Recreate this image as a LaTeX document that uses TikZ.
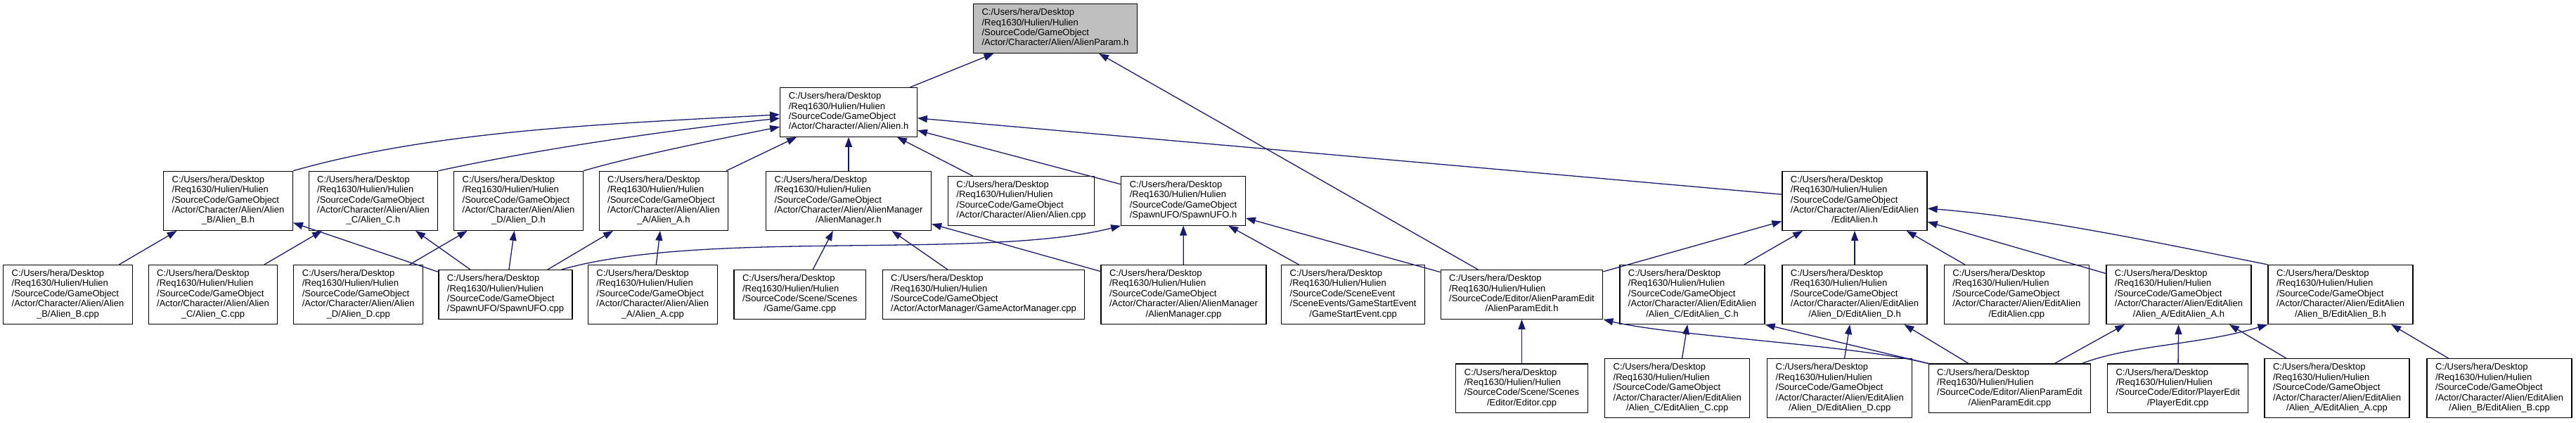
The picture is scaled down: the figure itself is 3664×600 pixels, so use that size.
\documentclass[tikz,border=0pt]{standalone}
\usepackage{fontspec}
\setmainfont{Liberation Sans}
\usetikzlibrary{arrows.meta}
\definecolor{edgeblue}{HTML}{191970}
\definecolor{nodegray}{HTML}{BFBFBF}
\newcommand{\flines}[1]{\begin{tabular}{@{}l@{}}#1\end{tabular}}
\newcommand{\lastln}[1]{\multicolumn{1}{@{}c@{}}{#1}}
\newcommand{\hpre}{C:/Users/hera/Desktop\\/Req1630/Hulien/Hulien\\}

\begin{document}
\begin{tikzpicture}[x=1pt,y=-1pt,>={Triangle[length=14pt,width=10pt]},
    file/.style={draw,line width=1.2pt,fill=white,inner xsep=12pt,inner ysep=6pt,
        font=\fontsize{13}{14.4}\selectfont},
    dep/.style={->,color=edgeblue,line width=1.3pt}]
    \useasboundingbox (0,0) rectangle (3664,600);
    % header and Alien.h
    \node[file,fill=nodegray] (aparam) at (1501,40.5)
        {\flines{\hpre/SourceCode/GameObject\\\lastln{/Actor/Character/Alien/AlienParam.h}}};
    \node[file] (alien) at (1207,159.4)
        {\flines{\hpre/SourceCode/GameObject\\\lastln{/Actor/Character/Alien/Alien.h}}};
    % third row
    \node[file] (alienb) at (324.5,285.3)
        {\flines{\hpre/SourceCode/GameObject\\/Actor/Character/Alien/Alien\\\lastln{\_B/Alien\_B.h}}};
    \node[file] (alienc) at (531,285.3)
        {\flines{\hpre/SourceCode/GameObject\\/Actor/Character/Alien/Alien\\\lastln{\_C/Alien\_C.h}}};
    \node[file] (aliend) at (737.5,285.3)
        {\flines{\hpre/SourceCode/GameObject\\/Actor/Character/Alien/Alien\\\lastln{\_D/Alien\_D.h}}};
    \node[file] (aliena) at (944,285.3)
        {\flines{\hpre/SourceCode/GameObject\\/Actor/Character/Alien/Alien\\\lastln{\_A/Alien\_A.h}}};
    \node[file] (amgr) at (1207,285.3)
        {\flines{\hpre/SourceCode/GameObject\\/Actor/Character/Alien/AlienManager\\\lastln{/AlienManager.h}}};
    \node[file] (aliencpp) at (1452.5,285.3)
        {\flines{\hpre/SourceCode/GameObject\\\lastln{/Actor/Character/Alien/Alien.cpp}}};
    \node[file] (spawnh) at (1683,285.3)
        {\flines{\hpre/SourceCode/GameObject\\\lastln{/SpawnUFO/SpawnUFO.h}}};
    \node[file] (editalien) at (2638,285.3)
        {\flines{\hpre/SourceCode/GameObject\\/Actor/Character/Alien/EditAlien\\\lastln{/EditAlien.h}}};
    % fourth row
    \node[file] (bcpp) at (96.5,418.5)
        {\flines{\hpre/SourceCode/GameObject\\/Actor/Character/Alien/Alien\\\lastln{\_B/Alien\_B.cpp}}};
    \node[file] (ccpp) at (303,418.5)
        {\flines{\hpre/SourceCode/GameObject\\/Actor/Character/Alien/Alien\\\lastln{\_C/Alien\_C.cpp}}};
    \node[file] (dcpp) at (509.7,418.5)
        {\flines{\hpre/SourceCode/GameObject\\/Actor/Character/Alien/Alien\\\lastln{\_D/Alien\_D.cpp}}};
    \node[file] (spawncpp) at (719,418.5)
        {\flines{\hpre/SourceCode/GameObject\\\lastln{/SpawnUFO/SpawnUFO.cpp}}};
    \node[file] (acpp) at (928.3,418.5)
        {\flines{\hpre/SourceCode/GameObject\\/Actor/Character/Alien/Alien\\\lastln{\_A/Alien\_A.cpp}}};
    \node[file] (gamecpp) at (1137.7,418.5)
        {\flines{\hpre/SourceCode/Scene/Scenes\\\lastln{/Game/Game.cpp}}};
    \node[file] (actormgr) at (1399,418.5)
        {\flines{\hpre/SourceCode/GameObject\\\lastln{/Actor/ActorManager/GameActorManager.cpp}}};
    \node[file] (amgrcpp) at (1683.5,418.5)
        {\flines{\hpre/SourceCode/GameObject\\/Actor/Character/Alien/AlienManager\\\lastln{/AlienManager.cpp}}};
    \node[file] (startev) at (1924.6,418.5)
        {\flines{\hpre/SourceCode/SceneEvent\\/SceneEvents/GameStartEvent\\\lastln{/GameStartEvent.cpp}}};
    \node[file] (apedith) at (2164.5,418.5)
        {\flines{\hpre/SourceCode/Editor/AlienParamEdit\\\lastln{/AlienParamEdit.h}}};
    \node[file] (editc) at (2407,418.5)
        {\flines{\hpre/SourceCode/GameObject\\/Actor/Character/Alien/EditAlien\\\lastln{/Alien\_C/EditAlien\_C.h}}};
    \node[file] (editd) at (2638,418.5)
        {\flines{\hpre/SourceCode/GameObject\\/Actor/Character/Alien/EditAlien\\\lastln{/Alien\_D/EditAlien\_D.h}}};
    \node[file] (editcpp) at (2868.3,418.5)
        {\flines{\hpre/SourceCode/GameObject\\/Actor/Character/Alien/EditAlien\\\lastln{/EditAlien.cpp}}};
    \node[file] (edita) at (3099,418.5)
        {\flines{\hpre/SourceCode/GameObject\\/Actor/Character/Alien/EditAlien\\\lastln{/Alien\_A/EditAlien\_A.h}}};
    \node[file] (editb) at (3329,418.5)
        {\flines{\hpre/SourceCode/GameObject\\/Actor/Character/Alien/EditAlien\\\lastln{/Alien\_B/EditAlien\_B.h}}};
    % bottom row
    \node[file] (editorcpp) at (2164.5,551.8)
        {\flines{\hpre/SourceCode/Scene/Scenes\\\lastln{/Editor/Editor.cpp}}};
    \node[file] (editccpp) at (2385.7,551.8)
        {\flines{\hpre/SourceCode/GameObject\\/Actor/Character/Alien/EditAlien\\\lastln{/Alien\_C/EditAlien\_C.cpp}}};
    \node[file] (editdcpp) at (2616.7,551.8)
        {\flines{\hpre/SourceCode/GameObject\\/Actor/Character/Alien/EditAlien\\\lastln{/Alien\_D/EditAlien\_D.cpp}}};
    \node[file] (apeditcpp) at (2858.5,551.8)
        {\flines{\hpre/SourceCode/Editor/AlienParamEdit\\\lastln{/AlienParamEdit.cpp}}};
    \node[file] (playercpp) at (3097.7,551.8)
        {\flines{\hpre/SourceCode/Editor/PlayerEdit\\\lastln{/PlayerEdit.cpp}}};
    \node[file] (editacpp) at (3324,551.8)
        {\flines{\hpre/SourceCode/GameObject\\/Actor/Character/Alien/EditAlien\\\lastln{/Alien\_A/EditAlien\_A.cpp}}};
    \node[file] (editbcpp) at (3555,551.8)
        {\flines{\hpre/SourceCode/GameObject\\/Actor/Character/Alien/EditAlien\\\lastln{/Alien\_B/EditAlien\_B.cpp}}};
    % straight includes
    \foreach \a/\b in {alien/aparam,apedith/aparam,aliena/alien,amgr/alien,aliencpp/alien,
        spawnh/alien,editalien/alien,bcpp/alienb,ccpp/alienc,dcpp/aliend,spawncpp/alienb,
        spawncpp/alienc,spawncpp/aliend,spawncpp/aliena,acpp/aliena,gamecpp/amgr,actormgr/amgr,
        amgrcpp/amgr,amgrcpp/spawnh,startev/spawnh,apedith/spawnh,apedith/editalien,
        editc/editalien,editd/editalien,editcpp/editalien,edita/editalien,editorcpp/apedith,
        editccpp/editc,editdcpp/editd,apeditcpp/editd,apeditcpp/edita,playercpp/edita,
        editacpp/edita,editbcpp/editb}{
        \draw[dep] (\a) -- (\b);
    }
    % curved includes
    \draw[dep] (alienb.north east) .. controls (616,186) and (860,176) .. (alien.182);
    \draw[dep] (alienc.north east) .. controls (772.7,210.3) and (959.6,184) .. (alien.185);
    \draw[dep] (aliend.north east) .. controls (900,222) and (1030,196) .. (alien.192);
    \draw[dep] (spawncpp.24) .. controls (1000,325) and (1400,370) .. (spawnh.south west);
    \draw[dep] (editb.north west) .. controls (3065.7,344.3) and (2901.4,309) .. (editalien.-6);
    \draw[dep] (apeditcpp.north west) .. controls (2640,490) and (2380,478) .. (apedith.south east);
    \draw[dep] (apeditcpp.north west) -- (editc.south east);
    \draw[dep] (apeditcpp.19) .. controls (3030,490) and (3130,490) .. (editb.south west);
\end{tikzpicture}
\end{document}
